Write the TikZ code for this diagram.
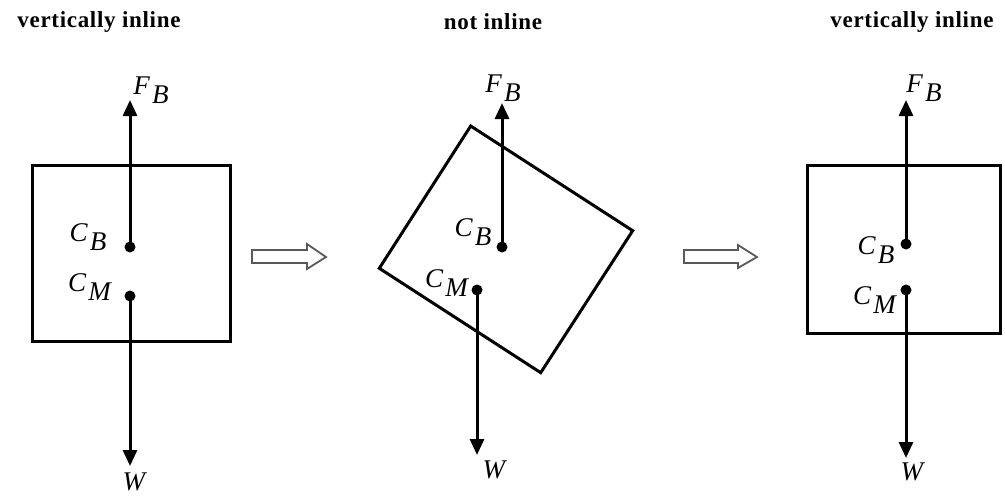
\documentclass[tikz,border=0pt]{standalone}
\usepackage{fontspec}
\setmainfont{Liberation Serif}
\newfontfamily\titlefont[LetterSpace=3]{Liberation Serif}
\usetikzlibrary{arrows.meta}
\newcommand{\lab}[2]{\textit{#1}\kern2pt\raisebox{-0.33em}{\textit{#2}}}
\begin{document}
\begin{tikzpicture}[x=1pt,y=-1pt,
  force/.style={line width=3pt,-{Triangle[width=14pt,length=16pt]}},
  body/.style={draw,line width=3pt},
  dot/.style={circle,fill,inner sep=0pt,minimum size=11pt},
  title/.style={font=\titlefont\fontsize{23}{23}\selectfont\bfseries,inner sep=0pt},
  lbl/.style={font=\fontsize{27}{27}\selectfont,inner sep=0pt},
  hollow/.style={draw=gray!70!black,line width=1.8pt,fill=white}
]
\useasboundingbox (0,0) rectangle (1005,499);
% panel 1
\node[title] (t1) at (99,22) {vertically inline};
\draw[body] (32,165) rectangle (230,341);
\node[dot] (cb1) at (130,247) {};
\node[dot] (cm1) at (130,296) {};
\coordinate (top1) at (130,100);
\coordinate (bot1) at (130,466);
\draw[force] (cb1.center) -- (top1);
\draw[force] (cm1.center) -- (bot1);
\node[lbl] (fb1) at (151,90) {\lab{F}{B}};
\node[lbl] (w1) at (135,482) {\textit{W}};
\node[lbl] (lcb1) at (88,237) {\lab{C}{B}};
\node[lbl] (lcm1) at (90,287) {\lab{C}{M}};
% arrow 1
\draw[hollow] (252,250) -- (307,250) -- (307,244) -- (326,257) -- (307,269) -- (307,263) -- (252,263) -- cycle;
% panel 2
\node[title] (t2) at (493,22) {not inline};
\draw[body] (470.7,126) -- (632.7,230.7) -- (540.7,372.7) -- (379.3,268.3) -- cycle;
\node[dot] (cb2) at (502,247) {};
\node[dot] (cm2) at (477,290) {};
\coordinate (top2) at (502,103);
\coordinate (bot2) at (477,455);
\draw[force] (cb2.center) -- (top2);
\draw[force] (cm2.center) -- (bot2);
\node[lbl] (fb2) at (503,88) {\lab{F}{B}};
\node[lbl] (w2) at (495,470) {\textit{W}};
\node[lbl] (lcb2) at (473,232) {\lab{C}{B}};
\node[lbl] (lcm2) at (447,283) {\lab{C}{M}};
% arrow 2
\draw[hollow] (684,250) -- (738,250) -- (738,245) -- (757,257) -- (738,268) -- (738,263) -- (684,263) -- cycle;
% panel 3
\node[title] (t3) at (912,22) {vertically inline};
\draw[body] (807,165) rectangle (1000,333);
\node[dot] (cb3) at (906,244) {};
\node[dot] (cm3) at (906,290) {};
\coordinate (top3) at (906,100);
\coordinate (bot3) at (906,458);
\draw[force] (cb3.center) -- (top3);
\draw[force] (cm3.center) -- (bot3);
\node[lbl] (fb3) at (924,88) {\lab{F}{B}};
\node[lbl] (w3) at (913,472) {\textit{W}};
\node[lbl] (lcb3) at (876,250) {\lab{C}{B}};
\node[lbl] (lcm3) at (875,300) {\lab{C}{M}};
\end{tikzpicture}
\end{document}
